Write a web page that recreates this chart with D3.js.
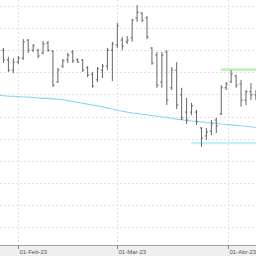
<!DOCTYPE html>
<html>
<head>
<meta charset="utf-8">
<script src="https://cdn.jsdelivr.net/npm/d3@7/dist/d3.min.js"></script>
<style>
  html, body { margin: 0; padding: 0; background: #fff; overflow: hidden; }
  svg { display: block; }
</style>
</head>
<body>
<svg id="chart"></svg>
<script>
// Dados (pregões)
const dates = [
  '2023-01-26', '2023-01-27', '2023-01-30', '2023-01-31',
  '2023-02-01', '2023-02-02', '2023-02-03', '2023-02-06', '2023-02-07', '2023-02-08', '2023-02-09', '2023-02-10',
  '2023-02-13', '2023-02-14', '2023-02-15', '2023-02-16', '2023-02-17', '2023-02-20', '2023-02-21', '2023-02-22',
  '2023-02-23', '2023-02-24', '2023-02-27', '2023-02-28',
  '2023-03-01', '2023-03-02', '2023-03-03', '2023-03-06', '2023-03-07', '2023-03-08', '2023-03-09', '2023-03-10',
  '2023-03-13', '2023-03-14', '2023-03-15', '2023-03-16', '2023-03-17', '2023-03-20', '2023-03-21', '2023-03-22',
  '2023-03-23', '2023-03-24', '2023-03-27', '2023-03-28', '2023-03-29', '2023-03-30', '2023-03-31',
  '2023-04-03', '2023-04-04', '2023-04-05', '2023-04-06', '2023-04-07', '2023-04-10'
];

const opens = [
  22.82, 23.00, 22.78, 22.55,
  22.73, 22.82, 23.23, 23.00, 23.00, 22.94, 23.16, 22.98,
  22.28, 22.64, 22.78, 22.96, 22.78, 22.78, 22.60, 22.46,
  22.33, 22.55, 22.64, 23.00,
  23.12, 23.23, 23.19, 23.28, 23.73, 23.84, 23.73, 23.05,
  22.89, 22.28, 22.96, 22.15, 22.55, 21.99, 21.60, 21.60,
  21.60, 21.24, 21.06, 21.17, 21.42, 21.56, 22.15,
  22.28, 22.42, 22.24, 21.87, 22.06, 21.99
];

const highs = [
  23.12, 23.05, 22.85, 22.82,
  22.87, 23.25, 23.25, 23.14, 23.03, 23.21, 23.21, 23.00,
  22.60, 22.80, 22.94, 23.00, 22.82, 22.80, 22.64, 22.51,
  22.62, 22.69, 23.05, 23.19,
  23.62, 23.30, 23.32, 23.71, 24.02, 23.86, 23.77, 23.07,
  22.96, 22.96, 23.00, 22.62, 22.73, 22.15, 21.92, 21.81,
  21.65, 21.26, 21.24, 21.42, 21.47, 22.21, 22.28,
  22.55, 22.44, 22.33, 22.10, 22.26, 22.10
];

const lows = [
  22.78, 22.71, 22.51, 22.48,
  22.69, 22.78, 22.94, 22.96, 22.82, 22.91, 22.96, 22.17,
  22.26, 22.60, 22.71, 22.71, 22.71, 22.51, 22.39, 22.15,
  22.28, 22.37, 22.55, 22.30,
  23.05, 23.00, 23.14, 23.19, 23.64, 23.64, 23.25, 22.67,
  22.15, 22.15, 21.76, 22.10, 21.67, 21.42, 21.33, 21.53,
  21.31, 20.81, 20.97, 21.08, 21.13, 21.53, 22.10,
  22.26, 22.15, 21.72, 21.76, 21.87, 21.87
];

const closes = [
  23.00, 22.78, 22.55, 22.73,
  22.82, 23.19, 23.00, 23.10, 22.87, 23.14, 23.00, 22.21,
  22.55, 22.76, 22.89, 22.76, 22.73, 22.55, 22.44, 22.19,
  22.58, 22.64, 23.00, 23.14,
  23.55, 23.10, 23.23, 23.68, 23.86, 23.68, 23.30, 22.71,
  22.21, 22.89, 21.87, 22.55, 21.76, 21.47, 21.42, 21.74,
  21.38, 21.01, 21.15, 21.33, 21.29, 22.15, 22.24,
  22.46, 22.21, 21.87, 22.06, 21.99, 21.96
];

// Média móvel
const movingAvg = [
  21.98, 21.97, 21.96, 21.96,
  21.95, 21.94, 21.94, 21.93, 21.92, 21.91, 21.91, 21.90,
  21.89, 21.88, 21.86, 21.84, 21.82, 21.80, 21.78, 21.76,
  21.74, 21.72, 21.69, 21.67,
  21.64, 21.62, 21.60, 21.58, 21.57, 21.55, 21.54, 21.52,
  21.51, 21.49, 21.48, 21.46, 21.44, 21.43, 21.41, 21.40,
  21.39, 21.38, 21.36, 21.36, 21.35, 21.33, 21.32,
  21.31, 21.30, 21.29, 21.28, 21.27, 21.25
];

// Linhas de suporte / resistência
const levelPrices = [22.56, 20.90];
const levelStarts = ['2023-03-30', '2023-03-22'];

// Eixos
const priceTicks = [19.0, 19.5, 20.0, 20.5, 21.0, 21.5, 22.0, 22.5, 23.0, 23.5, 24.0];
const dateTicks = ['2023-02-01', '2023-03-01', '2023-04-01'];
const dateTickLabels = ['01-Feb-23', '01-Mar-23', '01-Abr-23'];

const width = 256;
const height = 256;
const plotBottom = 245;

const svg = d3.select('#chart')
  .attr('width', width)
  .attr('height', height);

const parse = d3.timeParse('%Y-%m-%d');
const days = dates.map(parse);

// Escalas: x por índice de pregão (sem fins de semana)
const x = d3.scaleLinear().domain([0.303, 52.02]).range([0, width]);
const y = d3.scaleLinear().domain([18.593, 24.136]).range([plotBottom, 0]);

// Posição fracionária de uma data qualquer entre pregões
function datePos(str) {
  const d = parse(str);
  const i = d3.bisectLeft(days, d);
  if (i < days.length && +days[i] === +d) return i;
  const a = days[i - 1], b = days[i];
  return (i - 1) + (d - a) / (b - a);
}

// Grade
const grid = svg.append('g');
grid.selectAll('line.h')
  .data(priceTicks)
  .join('line')
  .attr('x1', 0).attr('x2', width)
  .attr('y1', d => Math.round(y(d)) + 0.5)
  .attr('y2', d => Math.round(y(d)) + 0.5)
  .attr('stroke', '#e2e2e2')
  .attr('stroke-dasharray', '2,2');

grid.selectAll('line.v')
  .data(dateTicks)
  .join('line')
  .attr('x1', d => Math.round(x(datePos(d))) + 0.5)
  .attr('x2', d => Math.round(x(datePos(d))) + 0.5)
  .attr('y1', 0).attr('y2', plotBottom)
  .attr('stroke', '#e2e2e2')
  .attr('stroke-dasharray', '2,2');

// Média móvel
const line = d3.line()
  .x((d, i) => x(i))
  .y(d => y(d));

svg.append('path')
  .datum(movingAvg)
  .attr('d', line)
  .attr('fill', 'none')
  .attr('stroke', '#8ad5f3')
  .attr('stroke-width', 1.1);

// Níveis
const levelColors = ['#bff3b0', '#c0f2f8'];
const levelWidths = [2.6, 2.2];
levelPrices.forEach((p, i) => {
  svg.append('line')
    .attr('x1', x(datePos(levelStarts[i])) - 0.5)
    .attr('x2', width)
    .attr('y1', y(p)).attr('y2', y(p))
    .attr('stroke', levelColors[i])
    .attr('stroke-width', levelWidths[i]);
});

// Barras OHLC
const bars = svg.append('g')
  .attr('stroke', '#666')
  .attr('stroke-width', 1);

const bar = bars.selectAll('g')
  .data(dates.map((d, i) => i))
  .join('g');

bar.append('line')
  .attr('x1', i => x(i)).attr('x2', i => x(i))
  .attr('y1', i => y(highs[i])).attr('y2', i => y(lows[i]));

bar.append('line')
  .attr('x1', i => x(i) - 1.6).attr('x2', i => x(i))
  .attr('y1', i => y(opens[i])).attr('y2', i => y(opens[i]));

bar.append('line')
  .attr('x1', i => x(i)).attr('x2', i => x(i) + 1.6)
  .attr('y1', i => y(closes[i])).attr('y2', i => y(closes[i]));

// Eixo de datas
const axis = svg.append('g');
axis.append('rect')
  .attr('x', 0).attr('y', plotBottom)
  .attr('width', width).attr('height', height - plotBottom)
  .attr('fill', '#efefef');

axis.append('line')
  .attr('x1', 0).attr('x2', width)
  .attr('y1', plotBottom + 0.5).attr('y2', plotBottom + 0.5)
  .attr('stroke', '#a8a8a8');

axis.selectAll('line.tick')
  .data(dateTicks)
  .join('line')
  .attr('x1', d => Math.round(x(datePos(d))) + 0.5)
  .attr('x2', d => Math.round(x(datePos(d))) + 0.5)
  .attr('y1', plotBottom).attr('y2', plotBottom + 4)
  .attr('stroke', '#888');

axis.selectAll('text')
  .data(dateTicks)
  .join('text')
  .attr('x', d => Math.round(x(datePos(d))) + 1.5)
  .attr('y', 254)
  .attr('font-family', 'Liberation Sans, Arial, sans-serif')
  .attr('font-size', 6)
  .attr('fill', '#555')
  .text((d, i) => dateTickLabels[i]);
</script>
</body>
</html>
